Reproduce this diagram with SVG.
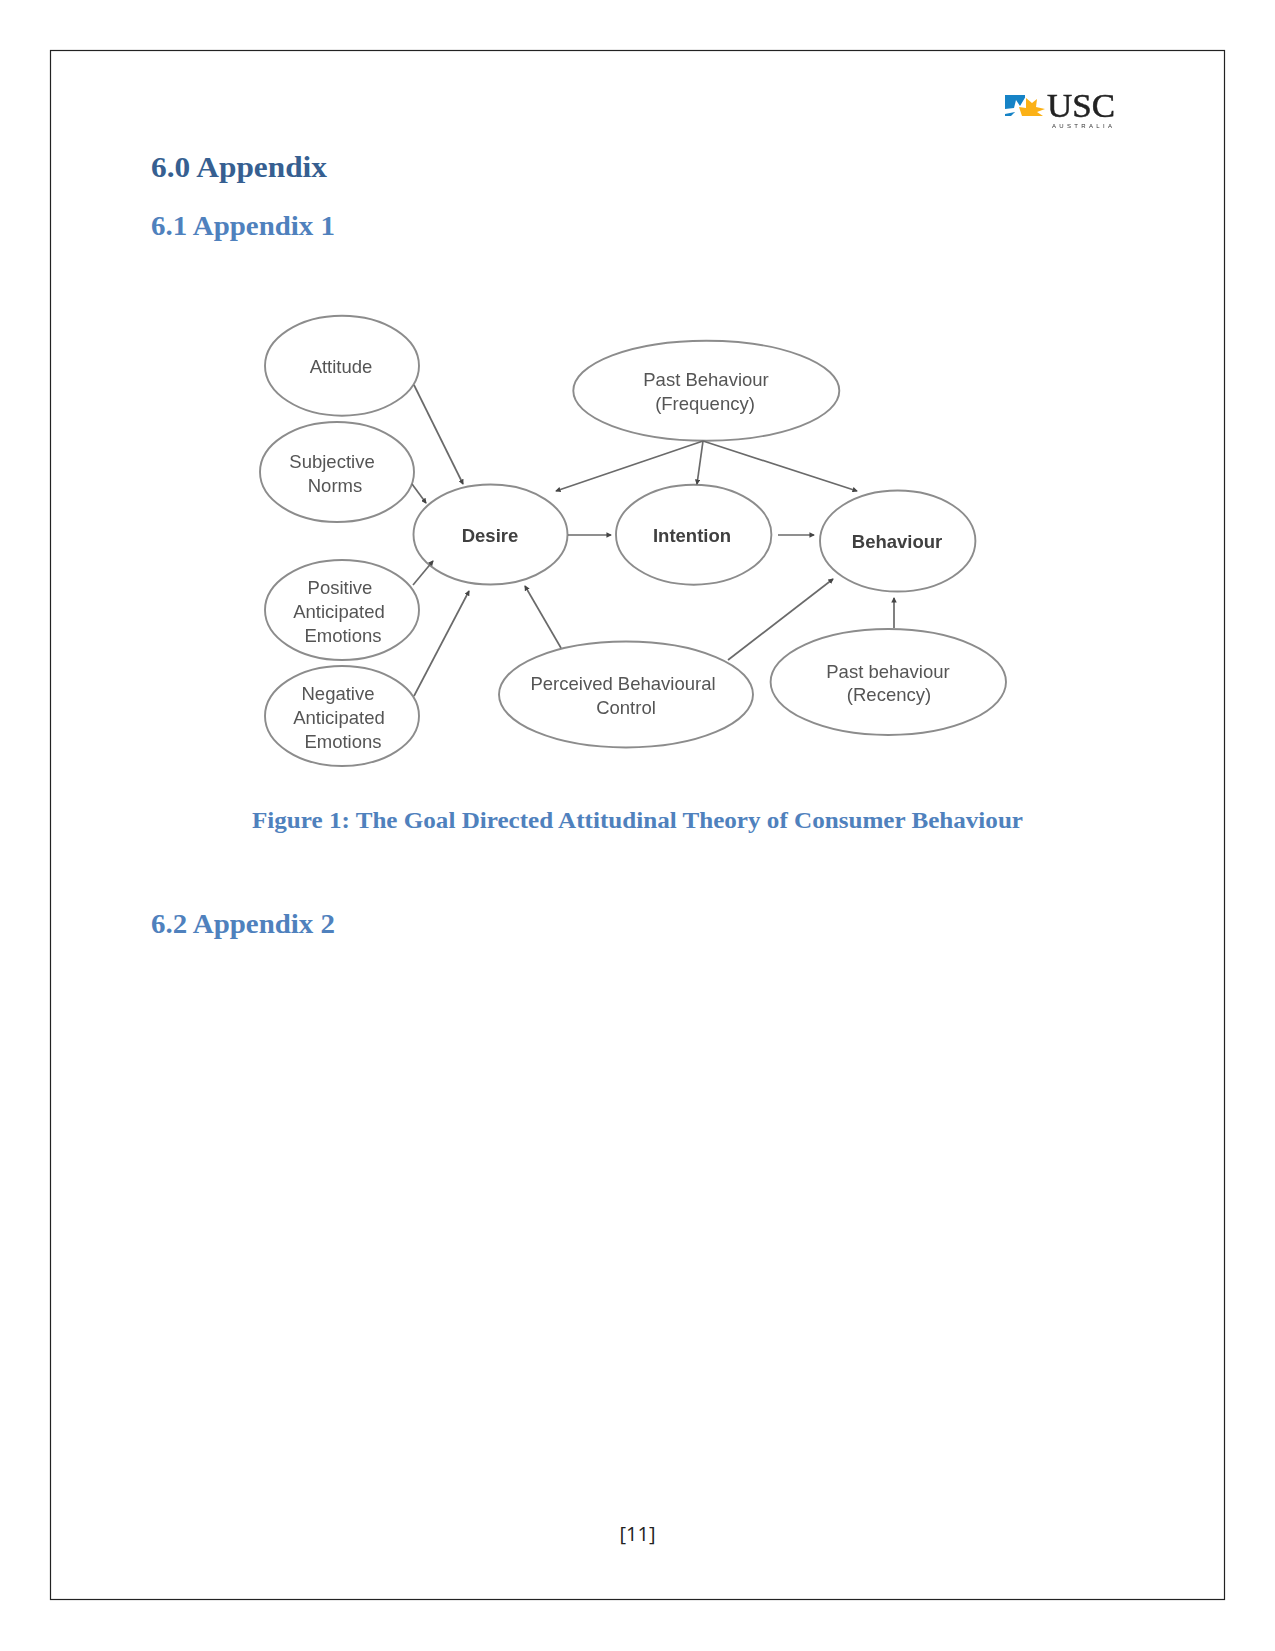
<svg xmlns="http://www.w3.org/2000/svg" width="1275" height="1651" viewBox="0 0 1275 1651">
<style>
.h{font-family:"Liberation Serif",serif;font-weight:700}
.h1{font-size:29px;fill:#365f91}
.h2{font-size:27px;fill:#4f81bd}
.cap{font-family:"Liberation Serif",serif;font-weight:700;font-size:24px;fill:#4f81bd}
.n ellipse{fill:#fff;stroke:#8c8c8c;stroke-width:1.9}
.n text{font-family:"Liberation Sans",Arial,sans-serif;font-size:18.500px;fill:#555;text-anchor:middle}
.n text.b{font-weight:700;fill:#3f3f3f}
#connectors line{stroke:#6a6a6a;stroke-width:1.700;marker-end:url(#tip)}
</style>
<defs>
<marker id="tip" viewBox="0 0 6 6" refX="5" refY="3" markerWidth="3.200" markerHeight="3.200" orient="auto"><path d="M0 0L6 3L0 6z" fill="#444"/></marker>
<filter id="soft" x="-2%" y="-2%" width="104%" height="104%"><feGaussianBlur stdDeviation="0.7"/></filter>
</defs>
<rect width="1275" height="1651" fill="#fff"/>
<rect x="50.500" y="50.500" width="1174" height="1549" fill="none" stroke="#222" stroke-width="1.2"/>

<g id="logo" filter="url(#soft)">
<rect x="1005" y="95" width="20" height="21" fill="#1583c6"/>
<path d="M1005 109L1014 108L1016 100L1020 106L1026 96V116H1011L1015 112L1005 114z" fill="#fff"/>
<path d="M1026 98L1032 103L1037 99L1036 107L1045 109L1037 112L1043 116H1022L1019 107L1026 108z" fill="#fbb116"/>
<text x="1047" y="116.500" font-family="Liberation Serif,serif" font-size="33" fill="#222" stroke="#222" stroke-width="0.5" textLength="68" lengthAdjust="spacingAndGlyphs">USC</text>
<text x="1052" y="127.500" font-family="Liberation Sans,sans-serif" font-size="6" fill="#333" textLength="60">AUSTRALIA</text>
</g>

<text class="h h1" x="151" y="177" textLength="176" lengthAdjust="spacingAndGlyphs">6.0 Appendix</text>
<text class="h h2" x="151" y="235" textLength="184" lengthAdjust="spacingAndGlyphs">6.1 Appendix 1</text>

<g id="figure" filter="url(#soft)">
<g id="attitude" class="n"><ellipse cx="342" cy="365.700" rx="77" ry="50"/><text x="341" y="373">Attitude</text></g>
<g id="subjective-norms" class="n"><ellipse cx="337" cy="472" rx="77" ry="50"/><text x="332" y="468">Subjective</text><text x="335" y="492">Norms</text></g>
<g id="desire" class="n"><ellipse cx="490.500" cy="534.500" rx="77" ry="50"/><text class="b" x="490" y="542">Desire</text></g>
<g id="positive-emotions" class="n"><ellipse cx="342" cy="610" rx="77" ry="50"/><text x="340" y="594">Positive</text><text x="339" y="618">Anticipated</text><text x="343" y="642">Emotions</text></g>
<g id="negative-emotions" class="n"><ellipse cx="342" cy="716" rx="77" ry="50"/><text x="338" y="700">Negative</text><text x="339" y="724">Anticipated</text><text x="343" y="748">Emotions</text></g>
<g id="perceived-control" class="n"><ellipse cx="626" cy="694.500" rx="127" ry="53"/><text x="623" y="690">Perceived Behavioural</text><text x="626" y="714">Control</text></g>
<g id="past-frequency" class="n"><ellipse cx="706.300" cy="390.700" rx="133" ry="50"/><text x="706" y="386">Past Behaviour</text><text x="705" y="410">(Frequency)</text></g>
<g id="intention" class="n"><ellipse cx="693.700" cy="534.700" rx="77.700" ry="50"/><text class="b" x="692" y="542">Intention</text></g>
<g id="behaviour" class="n"><ellipse cx="897.700" cy="541" rx="77.700" ry="50.500"/><text class="b" x="897" y="548">Behaviour</text></g>
<g id="past-recency" class="n"><ellipse cx="888.300" cy="682" rx="117.700" ry="53"/><text x="888" y="678">Past behaviour</text><text x="889" y="701">(Recency)</text></g>
<!-- connectors sit above the ellipses so each arrowhead stays visible -->
<g id="connectors">
<line x1="414" y1="385" x2="463" y2="484"/>
<line x1="412" y1="484" x2="426" y2="503"/>
<line x1="413" y1="585" x2="433" y2="561"/>
<line x1="414" y1="696" x2="469" y2="591"/>
<line x1="561" y1="648" x2="525" y2="586"/>
<line x1="703" y1="441" x2="556" y2="491"/>
<line x1="703" y1="441" x2="697" y2="484"/>
<line x1="703" y1="441" x2="857" y2="491"/>
<line x1="568" y1="535" x2="611" y2="535"/>
<line x1="778" y1="535" x2="814" y2="535"/>
<line x1="728" y1="660" x2="833" y2="579"/>
<line x1="894" y1="628" x2="894" y2="598"/>
</g>
</g>

<text class="cap" x="637.500" y="828" text-anchor="middle" textLength="771" lengthAdjust="spacingAndGlyphs">Figure 1: The Goal Directed Attitudinal Theory of Consumer Behaviour</text>
<text class="h h2" x="151" y="933" textLength="184" lengthAdjust="spacingAndGlyphs">6.2 Appendix 2</text>
<text x="637.500" y="1541" text-anchor="middle" font-family="Open Sans,sans-serif" font-size="20" fill="#222">[11]</text>
</svg>
